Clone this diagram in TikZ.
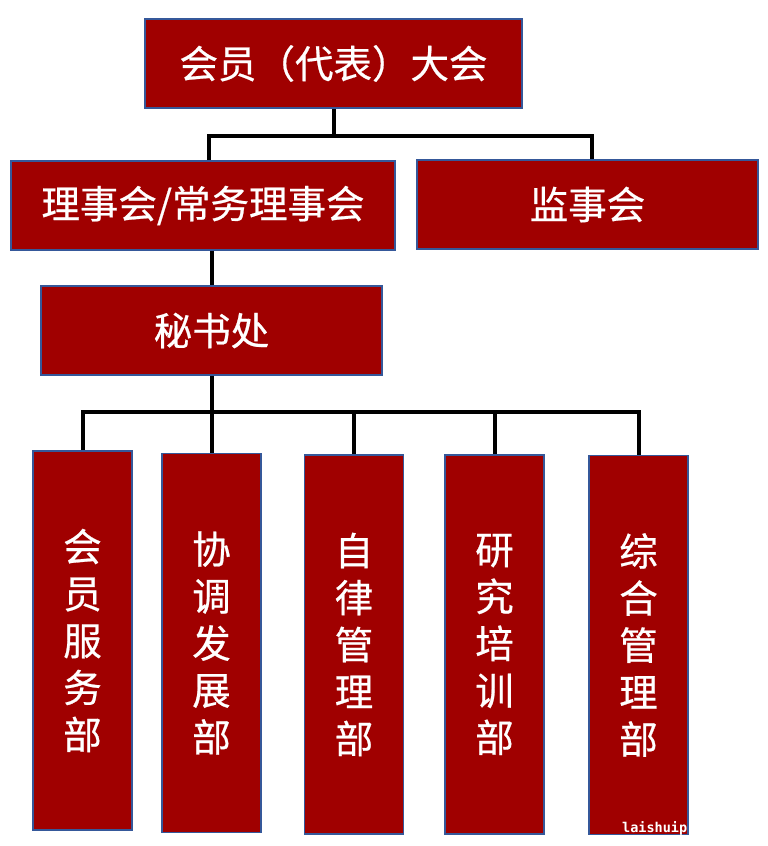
\documentclass[tikz,border=0pt]{standalone}
\usepackage{fontspec}
\newfontfamily\cjk{Noto Sans CJK SC}[FakeBold=0.6]
\newfontfamily\markfont{DejaVu Sans Mono}
\definecolor{orgRed}{HTML}{A00000}
\definecolor{orgEdge}{HTML}{35589A}
\usetikzlibrary{calc,positioning}

\begin{document}
\begin{tikzpicture}[x=1pt, y=-1pt,
  block/.style={draw=orgEdge, line width=1.8pt, fill=orgRed, text=white,
    inner sep=0pt, align=center, font=\cjk\fontsize{38.5}{47}\selectfont},
  wide/.style={block, minimum width=#1, minimum height=89pt},
  dept/.style={block, minimum width=99pt, minimum height=379pt},
  conn/.style={line width=4pt, color=black}
]
  \useasboundingbox (0,0) rectangle (768,846);
  % top levels
  \node[wide=377pt] (congress) at (333.5,63.5) {会员（代表）大会};
  \node[wide=384pt] (council) at (203,205.5) {理事会/常务理事会};
  \node[wide=341pt] (supervise) at (587.5,204.5) {监事会};
  \node[wide=341pt] (secretary) at (211.5,330.5) {秘书处};
  % departments
  \node[dept] (member) at (82.5,640.5) {会\\员\\服\\务\\部};
  \node[dept] (coord) at (211.5,643) {协\\调\\发\\展\\部};
  \node[dept] (discipline) at (354,644.5) {自\\律\\管\\理\\部};
  \node[dept] (research) at (494.5,644.5) {研\\究\\培\\训\\部};
  \node[dept] (general) at (638.5,645) {综\\合\\管\\理\\部};
  \node[font=\markfont\bfseries\fontsize{13.5}{13.5}\selectfont, text=white,
    anchor=west, inner sep=0pt] (mark) at (622,828) {laishuip};
  % connectors
  \draw[conn] (congress.south) -- ++(0,27) coordinate (upbus);
  \draw[conn] ([xshift=6pt]council.north) -- ([xshift=6pt]council.north |- upbus)
    -- ([xshift=4pt]supervise.north |- upbus) -- ([xshift=4pt]supervise.north);
  \draw[conn] (secretary.north |- council.south) -- (secretary.north);
  \draw[conn] (secretary.south) -- ++(0,36) coordinate (lowbus);
  \draw[conn] (member.north) -- (member.north |- lowbus)
    -- (general.north |- lowbus) -- (general.north);
  \foreach \d in {coord,discipline,research}
    \draw[conn] (\d.north) -- (\d.north |- lowbus);
\end{tikzpicture}
\end{document}
